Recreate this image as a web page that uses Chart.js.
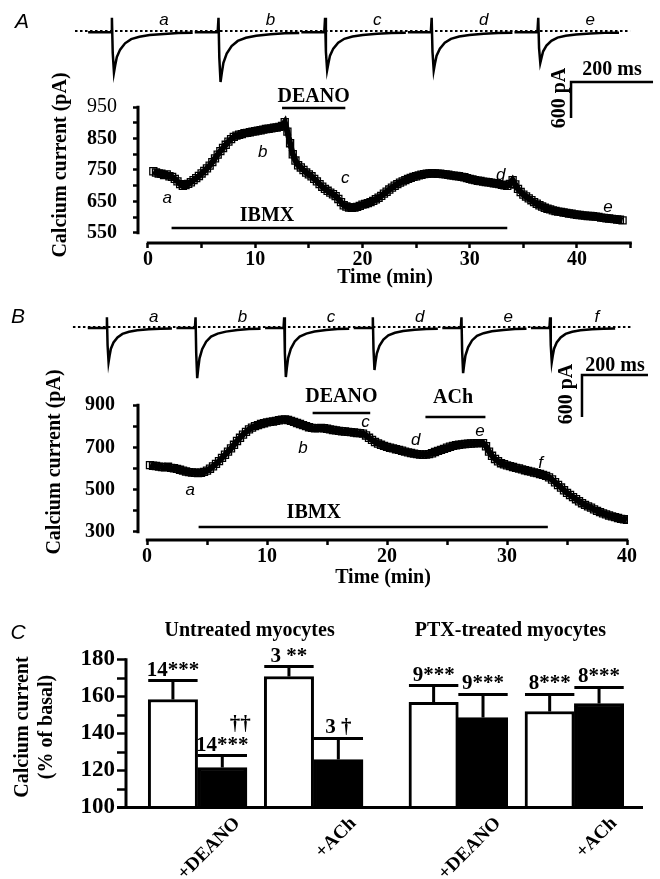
<!DOCTYPE html>
<html>
<head>
<meta charset="utf-8">
<title>Calcium current</title>
<script src="https://cdn.jsdelivr.net/npm/chart.js@4.4.1/dist/chart.umd.min.js"></script>
<style>
  body { margin: 0; background: #fff; }
  #fig { position: relative; width: 660px; height: 879px; overflow: hidden; }
  #fig canvas { position: absolute; left: 0; }
</style>
</head>
<body>
<div id="fig">
  <canvas id="traceA" width="660" height="130" style="top:0"></canvas>
  <canvas id="plotA" width="660" height="240" style="top:60px"></canvas>
  <canvas id="traceB" width="660" height="135" style="top:290px"></canvas>
  <canvas id="plotB" width="660" height="235" style="top:355px"></canvas>
  <canvas id="barC" width="660" height="279" style="top:600px"></canvas>
</div>
<script>
var SERIF = '"Liberation Serif", "Times New Roman", serif';
var SANS = '"Liberation Sans", Arial, sans-serif';

/* Panel A: current sampled every 0.25 min from 0.5 min (pA) */
var timeStartA = 0.5, timeStepA = 0.25;
var currentA = [
  746, 742, 739, 738, 734, 736, 730, 728,
  722, 714, 705, 700, 702, 706, 711, 718,
  724, 731, 739, 747, 755, 764, 775, 787,
  799, 810, 820, 830, 840, 848, 855, 859,
  862, 864, 867, 868, 870, 872, 873, 875,
  876, 878, 880, 881, 882, 884, 885, 887,
  890, 902, 872, 835, 800, 780, 765, 758,
  750, 742, 736, 730, 722, 714, 705, 697,
  690, 684, 678, 673, 667, 658, 648, 638,
  634, 631, 630, 631, 633, 636, 640, 642,
  645, 648, 652, 657, 662, 668, 675, 681,
  688, 694, 700, 705, 710, 714, 718, 722,
  725, 728, 730, 733, 735, 737, 738, 739,
  740, 739, 738, 738, 737, 736, 735, 733,
  732, 731, 730, 728, 727, 724, 722, 720,
  718, 716, 715, 713, 712, 711, 710, 708,
  707, 705, 703, 701, 700, 706, 718, 704,
  690, 680, 672, 666, 660, 654, 648, 643,
  638, 634, 630, 627, 625, 622, 620, 618,
  617, 615, 614, 612, 611, 609, 608, 607,
  606, 605, 604, 604, 603, 602, 601, 599,
  598, 597, 596, 595, 594, 593, 592, 590
];
var xTicksA = [0, 5, 10, 15, 20, 25, 30, 35, 40, 45];
var xLabelsA = [0, 10, 20, 30, 40];
var yTicksA = [550, 600, 650, 700, 750, 800, 850, 900, 950];
var yLabelsA = [550, 650, 750, 850, 950];
var marksA = ['a', 'b', 'c', 'd', 'e'];
var markTimeA = [1.8, 10.7, 18.4, 32.9, 42.9];
var markValueA = [661, 807, 725, 734, 633];
var drugsA = ['IBMX', 'DEANO'];
var drugOnA = [2.2, 12.5];
var drugOffA = [33.5, 18.4];

/* Panel B */
var timeStartB = 0.25, timeStepB = 0.25;
var currentB = [
  616, 613, 612, 609, 607, 606, 608, 603,
  601, 598, 594, 590, 586, 583, 581, 580,
  579, 580, 584, 590, 599, 610, 622, 635,
  650, 665, 680, 695, 712, 730, 745, 760,
  773, 785, 793, 800, 805, 810, 814, 818,
  820, 822, 825, 828, 831, 832, 829, 825,
  820, 815, 810, 805, 800, 795, 792, 790,
  791, 792, 790, 788, 785, 782, 780, 778,
  776, 775, 773, 772, 770, 768, 767, 765,
  756, 745, 735, 725, 718, 712, 707, 702,
  698, 695, 691, 688, 684, 680, 676, 673,
  670, 668, 666, 665, 666, 668, 672, 678,
  683, 688, 693, 698, 703, 707, 710, 712,
  714, 716, 717, 718, 719, 720, 720, 720,
  705, 680, 660, 645, 634, 625, 620, 615,
  611, 607, 603, 600, 596, 592, 588, 585,
  581, 578, 574, 570, 565, 558, 548, 535,
  522, 510, 497, 485, 475, 465, 455, 445,
  436, 428, 421, 415, 407, 400, 394, 388,
  383, 378, 374, 370, 366, 362, 360, 358
];
var xTicksB = [0, 5, 10, 15, 20, 25, 30, 35, 40];
var xLabelsB = [0, 10, 20, 30, 40];
var yTicksB = [300, 400, 500, 600, 700, 800, 900];
var yLabelsB = [300, 500, 700, 900];
var marksB = ['a', 'b', 'c', 'd', 'e', 'f'];
var markTimeB = [3.6, 13.0, 18.2, 22.4, 27.75, 32.8];
var markValueB = [498, 697, 820, 735, 777, 626];
var drugsB = ['IBMX', 'DEANO', 'ACh'];
var drugOnB = [4.3, 13.8, 23.2];
var drugOffB = [33.4, 18.6, 28.2];

/* current sweeps (ms within sweep, pA) */
var sweepMs = [0, 56, 58, 60, 63, 66, 70, 78, 90, 105, 125, 150, 185, 220, 255];
var sweepsA = [
  [-20, -20, 220, -365, -690, -570, -435, -310, -205, -135, -95, -68, -48, -34, -30],
  [-20, -20, 220, -445, -850, -700, -530, -377, -250, -165, -113, -80, -54, -37, -32],
  [-20, -20, 220, -345, -650, -540, -410, -293, -195, -130, -92, -66, -46, -33, -30],
  [-20, -20, 220, -345, -655, -540, -412, -295, -196, -131, -92, -66, -46, -33, -30],
  [-20, -20, 220, -285, -530, -444, -338, -243, -163, -110, -78, -57, -41, -31, -28]
];
var sweepsB = [
  [-15, -15, 140, -260, -500, -410, -310, -220, -148, -98, -68, -48, -33, -25, -22],
  [-15, -15, 140, -375, -730, -595, -448, -318, -210, -138, -95, -66, -44, -30, -26],
  [-15, -15, 140, -368, -715, -584, -440, -312, -207, -136, -94, -65, -44, -30, -26],
  [-15, -15, 140, -318, -615, -502, -380, -270, -180, -119, -83, -58, -40, -28, -24],
  [-15, -15, 140, -340, -660, -540, -408, -290, -192, -127, -88, -61, -42, -29, -25],
  [-15, -15, 140, -260, -500, -410, -310, -220, -148, -98, -68, -48, -33, -25, -22]
];

/* Panel C: % of basal */
var groups = ['+DEANO', '+ACh', '+DEANO', '+ACh'];
var groupTitles = ['Untreated myocytes', 'PTX-treated myocytes'];
var controlMean = [158.4, 170.8, 156.8, 151.9];
var controlSem = [10.2, 5.4, 9.1, 9.2];
var drugMean = [121.6, 125.9, 148.6, 156.2];
var drugSem = [6.5, 11.4, 12.5, 8.7];
var controlNote = ['14***', '3 **', '9***', '8***'];
var drugNote = ['14***', '3 \u2020', '9***', '8***'];
var drugNote2 = ['\u2020\u2020', '', '', ''];
var yTicksC = [100, 110, 120, 130, 140, 150, 160, 170, 180];
var yLabelsC = [100, 120, 140, 160, 180];

Chart.defaults.font.family = SERIF;
Chart.defaults.font.size = 20;
Chart.defaults.font.weight = 'bold';
Chart.defaults.color = '#000';

function txt(ctx, s, x, y, font, align, base, rot) {
	ctx.save();
	ctx.translate(x, y);
	if (rot) ctx.rotate(rot);
	ctx.font = font;
	ctx.textAlign = align || 'center';
	ctx.textBaseline = base || 'middle';
	ctx.fillStyle = '#000';
	ctx.fillText(s, 0, 0);
	ctx.restore();
}

function timeCourse(id, t0, dt, values, o) {
	var pts = values.map(function (v, i) { return { x: t0 + i * dt, y: v }; });
	var deco = {
		id: 'deco',
		afterDraw: function (chart) {
			var ctx = chart.ctx, a = chart.chartArea, x = chart.scales.x, y = chart.scales.y;
			ctx.save();
			ctx.strokeStyle = '#000';
			ctx.lineWidth = 3;
			ctx.beginPath();
			ctx.moveTo(a.left, y.getPixelForValue(o.yTicks[o.yTicks.length - 1]) - 1.2);
			ctx.lineTo(a.left, y.getPixelForValue(o.yTicks[0]) + 1.2);
			ctx.moveTo(x.getPixelForValue(o.xTicks[0]) - 1.2, a.bottom);
			ctx.lineTo(x.getPixelForValue(o.xTicks[o.xTicks.length - 1]) + 1.2, a.bottom);
			ctx.stroke();
			ctx.lineWidth = 2.5;
			o.drugs.forEach(function (n, i) {
				var py = y.getPixelForValue(o.drugLevel[i]);
				var x1 = x.getPixelForValue(o.drugOn[i]), x2 = x.getPixelForValue(o.drugOff[i]);
				ctx.beginPath();
				ctx.moveTo(x1, py);
				ctx.lineTo(x2, py);
				ctx.stroke();
				txt(ctx, n, x.getPixelForValue(o.drugLabelAt[i]), py - o.drugGap[i], 'bold 20px ' + SERIF);
			});
			o.marks.forEach(function (m, i) {
				txt(ctx, m, x.getPixelForValue(o.markTime[i]), y.getPixelForValue(o.markValue[i]), 'italic 17px ' + SANS);
			});
			txt(ctx, 'Time (min)', (a.left + a.right) / 2, o.xTitleY, 'bold 20px ' + SERIF);
			txt(ctx, 'Calcium current (pA)', o.yTitleX, o.yTitleY, 'bold 20px ' + SERIF, 'center', 'middle', -Math.PI / 2);
			ctx.restore();
		}
	};
	return new Chart(document.getElementById(id), {
		type: 'line',
		data: {
			datasets: [{
				data: pts,
				borderColor: '#000',
				borderWidth: 6,
				tension: 0,
				pointStyle: 'rect',
				pointRadius: 5,
				pointBorderWidth: 1.3,
				pointBorderColor: '#000',
				pointBackgroundColor: 'rgba(255,255,255,0)'
			}]
		},
		options: {
			responsive: false,
			animation: false,
			events: [],
			layout: { padding: o.pad },
			plugins: { legend: { display: false }, tooltip: { enabled: false } },
			scales: {
				x: {
					type: 'linear', min: o.xMin, max: o.xMax,
					afterBuildTicks: function (s) { s.ticks = o.xTicks.map(function (v) { return { value: v }; }); },
					afterFit: function (s) { s.height = o.xHeight; },
					border: { display: false },
					grid: { drawOnChartArea: false, tickLength: 5, tickWidth: 2.5, tickColor: '#000' },
					ticks: {
						padding: 0, autoSkip: false, maxRotation: 0, minRotation: 0,
						font: { size: 20, weight: 'bold' },
						callback: function (v) { return o.xLabels.indexOf(v) >= 0 ? String(v) : ''; }
					}
				},
				y: {
					type: 'linear', min: o.yMin, max: o.yMax,
					afterBuildTicks: function (s) { s.ticks = o.yTicks.map(function (v) { return { value: v }; }); },
					afterFit: function (s) { s.width = o.yWidth; },
					border: { display: false },
					grid: { drawOnChartArea: false, tickLength: 5, tickWidth: 2.5, tickColor: '#000' },
					ticks: {
						padding: o.yPad, autoSkip: false,
						font: function (c) {
							return { size: 20, weight: (c.tick && c.tick.value === o.lightTick) ? 'normal' : 'bold' };
						},
						callback: function (v) { return o.yLabels.indexOf(v) >= 0 ? String(v) : ''; }
					}
				}
			}
		},
		plugins: [deco]
	});
}

function traces(id, sweeps, o) {
	var ds = sweeps.map(function (vals, i) {
		return {
			data: vals.map(function (v, k) { return { x: o.first + i * o.spacing + sweepMs[k], y: v }; }),
			borderColor: '#000', borderWidth: 2.5, pointRadius: 0, tension: 0
		};
	});
	ds.push({
		data: [{ x: o.dotFrom, y: 0 }, { x: o.dotTo, y: 0 }],
		borderColor: '#000', borderWidth: 2, borderDash: [2.5, 2.5], pointRadius: 0
	});
	var deco = {
		id: 'tdeco',
		afterDraw: function (chart) {
			var ctx = chart.ctx, x = chart.scales.x, y = chart.scales.y;
			txt(ctx, o.panel, o.panelX, o.panelY, 'italic 21px ' + SANS);
			o.letters.forEach(function (l, i) {
				txt(ctx, l, x.getPixelForValue(o.first + i * o.spacing + o.letterAt), o.letterY, 'italic 17px ' + SANS);
			});
			var cx = x.getPixelForValue(o.barX), cy = y.getPixelForValue(o.barY);
			var ex = x.getPixelForValue(o.barX + 200), ey = y.getPixelForValue(o.barY - 600);
			ctx.save();
			ctx.strokeStyle = '#000';
			ctx.lineWidth = 2.5;
			ctx.beginPath();
			ctx.moveTo(cx, ey);
			ctx.lineTo(cx, cy);
			ctx.lineTo(ex, cy);
			ctx.stroke();
			ctx.restore();
			txt(ctx, '200 ms', (cx + ex) / 2, cy - o.msGap, 'bold 20px ' + SERIF);
			txt(ctx, '600 pA', cx - o.paGap, (cy + ey) / 2 - 2, 'bold 20px ' + SERIF, 'center', 'middle', -Math.PI / 2);
		}
	};
	return new Chart(document.getElementById(id), {
		type: 'line',
		data: { datasets: ds },
		options: {
			responsive: false,
			animation: false,
			events: [],
			layout: { padding: 0 },
			plugins: { legend: { display: false }, tooltip: { enabled: false } },
			scales: {
				x: { type: 'linear', display: false, min: 0, max: o.xMax },
				y: { type: 'linear', display: false, min: o.yMin, max: o.yMax }
			}
		},
		plugins: [deco]
	});
}

traces('traceA', sweepsA, {
	first: 215, spacing: 260, dotFrom: 183, dotTo: 1537,
	xMax: 1610, yMin: -1650, yMax: 517,
	panel: 'A', panelX: 22, panelY: 22,
	letters: marksA, letterAt: 185, letterY: 20,
	barX: 1393, barY: -850, msGap: 12, paGap: 11
});

timeCourse('plotA', timeStartA, timeStepA, currentA, {
	pad: { left: 0, top: 47, right: 28, bottom: 0 },
	xMin: -0.93, xMax: 45.13, yMin: 518.25, yMax: 950,
	xTicks: xTicksA, xLabels: xLabelsA, yTicks: yTicksA, yLabels: yLabelsA,
	xHeight: 57, yWidth: 138, yPad: 16, lightTick: 950,
	marks: marksA, markTime: markTimeA, markValue: markValueA,
	drugs: drugsA, drugOn: drugOnA, drugOff: drugOffA,
	drugLevel: [566, 947], drugLabelAt: [11.1, 15.45], drugGap: [12, 11],
	xTitleY: 218, yTitleX: 61, yTitleY: 105
});

traces('traceB', sweepsB, {
	first: 266, spacing: 268.6, dotFrom: 221, dotTo: 1918,
	xMax: 2000, yMin: -1400, yMax: 528.6,
	panel: 'B', panelX: 18, panelY: 27,
	letters: marksB, letterAt: 200, letterY: 27,
	barX: 1763.6, barY: -685.7, msGap: 9, paGap: 15
});

timeCourse('plotB', timeStartB, timeStepB, currentB, {
	pad: { left: 0, top: 50, right: 32, bottom: 0 },
	xMin: -0.75, xMax: 40.08, yMin: 262.2, yMax: 900,
	xTicks: xTicksB, xLabels: xLabelsB, yTicks: yTicksB, yLabels: yLabelsB,
	xHeight: 50, yWidth: 138, yPad: 18, lightTick: null,
	marks: marksB, markTime: markTimeB, markValue: markValueB,
	drugs: drugsB, drugOn: drugOnB, drugOff: drugOffB,
	drugLevel: [324, 862, 843], drugLabelAt: [13.9, 16.2, 25.5], drugGap: [14, 16, 19],
	xTitleY: 223, yTitleX: 55, yTitleY: 107
});

/* bar layout in bar-width units */
var firstBar = 0.95, pairGap = 0.35, sideGap = 0.93;
function barPos(g, k) { return firstBar + g * (2 + pairGap) + (g >= 2 ? sideGap - pairGap : 0) + k; }

var cDeco = {
	id: 'cdeco',
	afterDatasetsDraw: function (chart) {
		var ctx = chart.ctx, a = chart.chartArea, y = chart.scales.y;
		var base = y.getPixelForValue(100);
		ctx.save();
		ctx.strokeStyle = '#000';
		ctx.lineWidth = 3;
		ctx.beginPath();
		ctx.moveTo(a.left, y.getPixelForValue(180) - 1.2);
		ctx.lineTo(a.left, base);
		ctx.moveTo(a.left - 9, base);
		ctx.lineTo(a.right, base);
		ctx.stroke();
		var sets = [[controlMean, controlSem, controlNote], [drugMean, drugSem, drugNote]];
		sets.forEach(function (set, d) {
			chart.getDatasetMeta(d).data.forEach(function (bar, g) {
				var top = y.getPixelForValue(set[0][g] + set[1][g]);
				var half = bar.width / 2;
				ctx.beginPath();
				ctx.moveTo(bar.x, bar.y);
				ctx.lineTo(bar.x, top);
				ctx.moveTo(bar.x - half, top);
				ctx.lineTo(bar.x + half, top);
				ctx.stroke();
				txt(ctx, set[2][g], bar.x, top - 5, 'bold 21px ' + SERIF, 'center', 'alphabetic');
				if (d === 1 && drugNote2[g]) {
					txt(ctx, drugNote2[g], bar.x + 18, top - 26, 'bold 21px ' + SERIF, 'center', 'alphabetic');
				}
				if (d === 1) {
					txt(ctx, groups[g], bar.x + 15, base + 13, 'bold 19px ' + SERIF, 'right', 'middle', -Math.PI / 4);
				}
			});
		});
		var c = chart.getDatasetMeta(0).data, k = chart.getDatasetMeta(1).data;
		groupTitles.forEach(function (t, i) {
			var l = c[2 * i].x - c[2 * i].width / 2, r = k[2 * i + 1].x + k[2 * i + 1].width / 2;
			txt(ctx, t, (l + r) / 2 - 6, 31, 'bold 20px ' + SERIF);
		});
		txt(ctx, 'Calcium current', 23, 127, 'bold 20px ' + SERIF, 'center', 'middle', -Math.PI / 2);
		txt(ctx, '(% of basal)', 47, 127, 'bold 20px ' + SERIF, 'center', 'middle', -Math.PI / 2);
		txt(ctx, 'C', 18, 33, 'italic 21px ' + SANS);
		ctx.restore();
	}
};

new Chart(document.getElementById('barC'), {
	type: 'bar',
	data: {
		datasets: [{
			data: groups.map(function (n, g) { return { x: barPos(g, 0), y: controlMean[g] }; }),
			backgroundColor: '#fff', borderColor: '#000', borderWidth: 3,
			grouped: false, categoryPercentage: 1, barPercentage: 1
		}, {
			data: groups.map(function (n, g) { return { x: barPos(g, 1), y: drugMean[g] }; }),
			backgroundColor: '#000', borderColor: '#000', borderWidth: 3,
			grouped: false, categoryPercentage: 1, barPercentage: 1
		}]
	},
	options: {
		responsive: false,
		animation: false,
		events: [],
		layout: { padding: { left: 0, right: 17, top: 59.5, bottom: 71.5 } },
		plugins: { legend: { display: false }, tooltip: { enabled: false } },
		scales: {
			x: {
				type: 'linear', display: false, offset: false, min: 0, max: 10.47,
				afterBuildTicks: function (s) { s.ticks = [{ value: 0 }]; }
			},
			y: {
				type: 'linear', min: 100, max: 180,
				afterBuildTicks: function (s) { s.ticks = yTicksC.map(function (v) { return { value: v }; }); },
				afterFit: function (s) { s.width = 126; },
				border: { display: false },
				grid: { drawOnChartArea: false, tickLength: 9, tickWidth: 2.5, tickColor: '#000' },
				ticks: {
					padding: 2, autoSkip: false,
					font: { size: 23, weight: 'bold' },
					callback: function (v) { return yLabelsC.indexOf(v) >= 0 ? String(v) : ''; }
				}
			}
		}
	},
	plugins: [cDeco]
});
</script>
</body>
</html>
